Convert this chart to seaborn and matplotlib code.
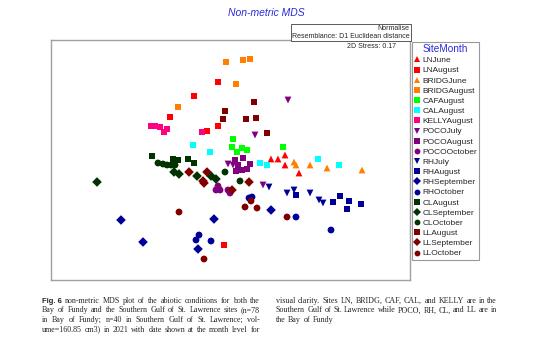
import numpy as np
import pandas as pd
import seaborn as sns
import matplotlib.pyplot as plt

# nMDS coordinates (MDS1, MDS2), one list per SiteMonth
LNJune = [(0.41, 0.11), (0.48, 0.11), (0.55, 0.15), (0.55, 0.05), (0.69, -0.03)]
LNAugust = [(-0.12, 0.88), (-0.36, 0.74), (-0.60, 0.53), (-0.23, 0.39), (-0.12, 0.44), (-0.06, -0.75)]
BRIDGJune = [(0.64, 0.08), (0.66, 0.05), (0.80, 0.05), (0.97, 0.02), (1.32, 0.00)]
BRIDGAugust = [(-0.04, 1.08), (0.13, 1.10), (0.20, 1.11), (0.06, 0.86), (-0.52, 0.63)]
CAFAugust = [(0.03, 0.31), (0.02, 0.23), (0.07, 0.18), (0.12, 0.22), (0.17, 0.20), (0.53, 0.23)]
CALAugust = [(-0.37, 0.25), (-0.20, 0.18), (0.30, 0.07), (0.37, 0.05), (0.88, 0.11), (1.09, 0.05)]
KELLYAugust = [(-0.79, 0.44), (-0.75, 0.44), (-0.70, 0.43), (-0.63, 0.41), (-0.66, 0.38), (-0.28, 0.38)]
POCOJuly = [(0.58, 0.70), (0.25, 0.35), (-0.02, 0.06), (0.03, 0.05), (0.33, -0.15)]
POCOAugust = [(0.05, 0.10), (0.13, 0.12), (0.20, 0.06), (0.06, -0.01), (0.12, 0.00), (0.17, 0.01), (0.08, 0.05)]
POCOOctober = [(-0.12, -0.16), (-0.14, -0.20), (-0.10, -0.20), (-0.02, -0.20), (0.00, -0.23)]
RHJuly = [(0.39, -0.17), (0.57, -0.23), (0.64, -0.20), (0.80, -0.23), (0.89, -0.30), (0.93, -0.33)]
RHAugust = [(0.66, -0.25), (1.03, -0.32), (1.10, -0.26), (1.19, -0.31), (1.17, -0.39), (1.31, -0.34)]
RHSeptember = [(-1.09, -0.50), (-0.16, -0.49), (-0.87, -0.72), (-0.32, -0.79), (0.41, -0.40)]
RHOctober = [(-0.31, -0.65), (-0.34, -0.70), (-0.19, -0.71), (0.19, -0.28), (0.22, -0.27), (0.66, -0.47), (1.01, -0.60)]
CLAugust = [(-0.78, 0.14), (-0.57, 0.11), (-0.52, 0.10), (-0.42, 0.11), (-0.36, 0.07)]
CLSeptember = [(-1.33, -0.12), (-0.56, -0.02), (-0.51, -0.04), (-0.33, -0.06), (-0.19, -0.06), (-0.14, -0.09)]
CLOctober = [(-0.72, 0.07), (-0.67, 0.06), (-0.63, 0.05), (-0.59, 0.05), (-0.55, 0.05), (-0.05, -0.02), (0.10, -0.11)]
LLAugust = [(-0.05, 0.59), (-0.07, 0.51), (0.24, 0.68), (0.16, 0.51), (0.26, 0.52), (0.37, 0.37)]
LLSeptember = [(-0.41, -0.02), (-0.23, -0.02), (-0.27, -0.11), (-0.26, -0.13), (0.02, -0.20), (0.19, -0.12)]
LLOctober = [(-0.51, -0.42), (-0.26, -0.89), (0.15, -0.37), (0.27, -0.38), (0.57, -0.47), (0.21, -0.31)]

site_months = ['LNJune', 'LNAugust', 'BRIDGJune', 'BRIDGAugust', 'CAFAugust', 'CALAugust',
               'KELLYAugust', 'POCOJuly', 'POCOAugust', 'POCOOctober', 'RHJuly', 'RHAugust',
               'RHSeptember', 'RHOctober', 'CLAugust', 'CLSeptember', 'CLOctober',
               'LLAugust', 'LLSeptember', 'LLOctober']
coords = [LNJune, LNAugust, BRIDGJune, BRIDGAugust, CAFAugust, CALAugust, KELLYAugust,
          POCOJuly, POCOAugust, POCOOctober, RHJuly, RHAugust, RHSeptember, RHOctober,
          CLAugust, CLSeptember, CLOctober, LLAugust, LLSeptember, LLOctober]

colors = ['#ff0000', '#ff0000', '#ff8000', '#ff8000', '#00ff00', '#00ffff', '#ff0080',
          '#800080', '#800080', '#800080', '#000099', '#000099', '#000099', '#000099',
          '#003300', '#003300', '#003300', '#800000', '#800000', '#800000']
markers = ['^', 's', '^', 's', 's', 's', 's', 'v', 's', 'o', 'v', 's', 'D', 'o',
           's', 'D', 'o', 's', 'D', 'o']

caption_left = [
    "non-metric MDS plot of the abiotic conditions for both the",
    "Bay of Fundy and the Southern Gulf of St. Lawrence sites (n=78",
    "in Bay of Fundy; n=40 in Southern Gulf of St. Lawrence; vol-",
    "ume=160.85 cm3) in 2021 with date shown at the month level for",
]
caption_right = [
    "visual clarity. Sites LN, BRIDG, CAF, CAL, and KELLY are in the",
    "Southern Gulf of St. Lawrence while POCO, RH, CL, and LL are in",
    "the Bay of Fundy",
]

rows = []
for name, pts in zip(site_months, coords):
    for x, y in pts:
        rows.append({'MDS1': x, 'MDS2': y, 'SiteMonth': name})
df = pd.DataFrame(rows)

sns.set_style('white')
plt.rcParams['font.family'] = ['Liberation Sans', 'DejaVu Sans']

W, H = 554, 351
fig = plt.figure(figsize=(W / 100, H / 100), dpi=100)
ax = fig.add_axes([51 / W, 1 - 280 / H, (410 - 51) / W, (280 - 40) / H])

sns.scatterplot(data=df, x='MDS1', y='MDS2', hue='SiteMonth', style='SiteMonth',
                hue_order=site_months, style_order=site_months,
                palette=dict(zip(site_months, colors)),
                markers=dict(zip(site_months, markers)),
                s=24, linewidth=0, ax=ax, legend='full')

ax.set_xlim(-1.79, 1.80)
ax.set_ylim(-1.10, 1.30)
ax.set_xticks([])
ax.set_yticks([])
ax.set_xlabel('')
ax.set_ylabel('')
for sp in ax.spines.values():
    sp.set_color('#a0a0a0')
    sp.set_linewidth(1)

ax.text(0.961, 0.971, '2D Stress: 0.17', transform=ax.transAxes, ha='right',
        va='center', fontsize=5)
ax.text(0.999, 1.0, 'Normalise\nResemblance: D1 Euclidean distance',
        transform=ax.transAxes, ha='right', va='bottom', fontsize=5, linespacing=1.15,
        bbox=dict(boxstyle='square,pad=0.2', fc='white', ec='#404040', lw=0.6))

fig.text(266 / W, 1 - 13 / H, 'Non-metric MDS', ha='center', va='center',
         color='#2a2ad8', style='italic', fontsize=7.5)

handles, labels = ax.get_legend_handles_labels()
ax.get_legend().remove()
for h in handles:
    h.set_markersize(4.2)
leg = fig.legend(handles, labels, loc='upper left',
                 bbox_to_anchor=(412 / W, 1 - 42 / H), bbox_transform=fig.transFigure,
                 title='SiteMonth', fontsize=6, title_fontsize=7.2,
                 frameon=True, fancybox=False, borderaxespad=0, borderpad=0.25,
                 labelspacing=0.28, handletextpad=0.2, handlelength=0.8)
leg.get_title().set_color('#2a2ad8')
leg.get_frame().set_edgecolor('#808080')
leg.get_frame().set_linewidth(0.8)

# caption, justified like the printed page
renderer = fig.canvas.get_renderer()


def put_line(words, x0, x1, y, last=False):
    texts = []
    for w, kw in words:
        texts.append(fig.text(0, 0, w, va='baseline', **kw))
    widths = [t.get_window_extent(renderer).width for t in texts]
    if last or len(texts) < 2:
        gap = 2.4
    else:
        gap = (x1 - x0 - sum(widths)) / (len(texts) - 1)
    x = x0
    for t, w in zip(texts, widths):
        t.set_position((x / W, 1 - y / H))
        x += w + gap


serif = dict(family='Liberation Serif', fontsize=5.75)
bold = dict(family='Liberation Sans', fontsize=5.5, weight='bold')
base_y = [303, 312.5, 322, 331.5]
for i, line in enumerate(caption_left):
    words = [(w, serif) for w in line.split()]
    if i == 0:
        words = [('Fig. 6', bold)] + words
    put_line(words, 42, 260, base_y[i])
for i, line in enumerate(caption_right):
    words = [(w, serif) for w in line.split()]
    put_line(words, 276, 497, base_y[i], last=(i == len(caption_right) - 1))

fig.savefig('out.png', dpi=100)
